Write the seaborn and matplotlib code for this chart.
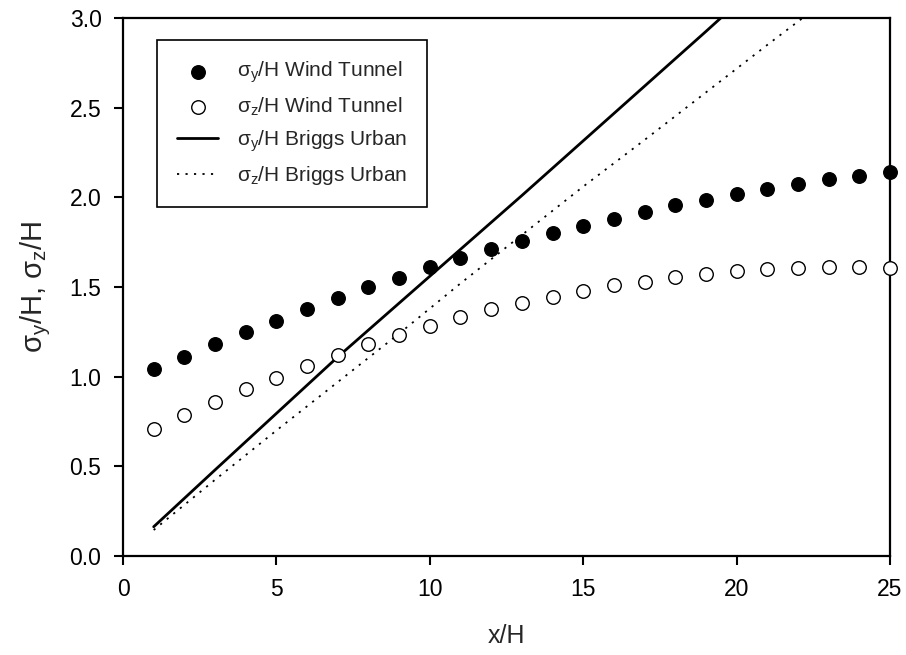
import numpy as np
import pandas as pd
import matplotlib
matplotlib.use("Agg")
import matplotlib.pyplot as plt
import seaborn as sns

# ---- data ----
x_tunnel = list(range(1, 26))
sigy_tunnel = [1.04, 1.11, 1.18, 1.25, 1.31, 1.38, 1.44, 1.50, 1.55, 1.61,
               1.66, 1.71, 1.755, 1.80, 1.84, 1.88, 1.92, 1.955, 1.985, 2.02,
               2.045, 2.075, 2.10, 2.12, 2.14]
sigz_tunnel = [0.71, 0.785, 0.86, 0.93, 0.995, 1.06, 1.12, 1.18, 1.235, 1.28,
               1.33, 1.375, 1.41, 1.445, 1.48, 1.51, 1.53, 1.555, 1.575, 1.59,
               1.60, 1.607, 1.61, 1.61, 1.607]

x_briggs_y = [1, 3, 5, 7, 10, 13, 15, 17, 19, 20]
sigy_briggs = [0.163, 0.48, 0.795, 1.11, 1.56, 2.01, 2.315, 2.62, 2.925, 3.08]

x_briggs_z = [1, 3, 5, 7, 9, 11, 13, 15, 17, 19, 21, 23]
sigz_briggs = [0.145, 0.425, 0.70, 0.97, 1.24, 1.52, 1.79, 2.06, 2.32, 2.585, 2.85, 3.11]

xticks = [0, 5, 10, 15, 20, 25]
yticks = [0.0, 0.5, 1.0, 1.5, 2.0, 2.5, 3.0]

sns.set_theme(style="ticks")
plt.rcParams['font.family'] = ['Liberation Sans', 'DejaVu Sans']
plt.rcParams['mathtext.fontset'] = 'custom'
plt.rcParams['mathtext.rm'] = 'Liberation Sans'
plt.rcParams['mathtext.it'] = 'Liberation Sans'

fig = plt.figure(figsize=(9.06, 6.55), dpi=100)
ax = fig.add_axes([123/906, 1 - 556/655, (890-123)/906, (556-18)/655])

df_t = pd.DataFrame({"x": x_tunnel, "sy": sigy_tunnel, "sz": sigz_tunnel})
df_by = pd.DataFrame({"x": x_briggs_y, "y": sigy_briggs})
df_bz = pd.DataFrame({"x": x_briggs_z, "y": sigz_briggs})

sns.lineplot(data=df_by, x="x", y="y", ax=ax, color="black", lw=2.0,
             label=r"$\mathregular{\sigma_y}$/H Briggs Urban", zorder=2)
sns.lineplot(data=df_bz, x="x", y="y", ax=ax, color="black", lw=1.3,
             linestyle=(0, (1.2, 3.5)),
             label=r"$\mathregular{\sigma_z}$/H Briggs Urban", zorder=2)
sns.scatterplot(data=df_t, x="x", y="sy", ax=ax, color="black", s=95,
                edgecolor="black", linewidth=1,
                label=r"$\mathregular{\sigma_y}$/H Wind Tunnel", zorder=3, clip_on=False)
sns.scatterplot(data=df_t, x="x", y="sz", ax=ax, color="white", s=95,
                edgecolor="black", linewidth=1,
                label=r"$\mathregular{\sigma_z}$/H Wind Tunnel", zorder=3, clip_on=False)

ax.set_xlim(0, 25)
ax.set_ylim(0, 3.0)
ax.set_xticks(xticks)
ax.set_yticks(yticks)
ax.set_yticklabels([f"{v:.1f}" for v in yticks])
ax.tick_params(direction="out", length=6.5, width=1.5, labelsize=16.5, pad=9,
               colors="black")
for sp in ax.spines.values():
    sp.set_linewidth(1.6)
    sp.set_color("black")
    sp.set_visible(True)

ax.set_xlabel("x/H", fontsize=18, labelpad=17)
ax.set_ylabel(r"$\mathregular{\sigma_y}$/H, $\mathregular{\sigma_z}$/H", fontsize=21, labelpad=12)

handles, labels = ax.get_legend_handles_labels()
order = [2, 3, 0, 1]
leg = ax.legend([handles[i] for i in order], [labels[i] for i in order],
                loc="upper left", bbox_to_anchor=(157/906, 1 - 40/655),
                bbox_transform=fig.transFigure, borderaxespad=0,
                fontsize=15, frameon=True, fancybox=False, shadow=False,
                handlelength=2.0, handletextpad=0.9, labelspacing=0.5,
                borderpad=0.95)
leg.get_frame().set_edgecolor("black")
leg.get_frame().set_linewidth(1.2)
leg.get_frame().set_alpha(1)

fig.savefig("out.png", dpi=100)
